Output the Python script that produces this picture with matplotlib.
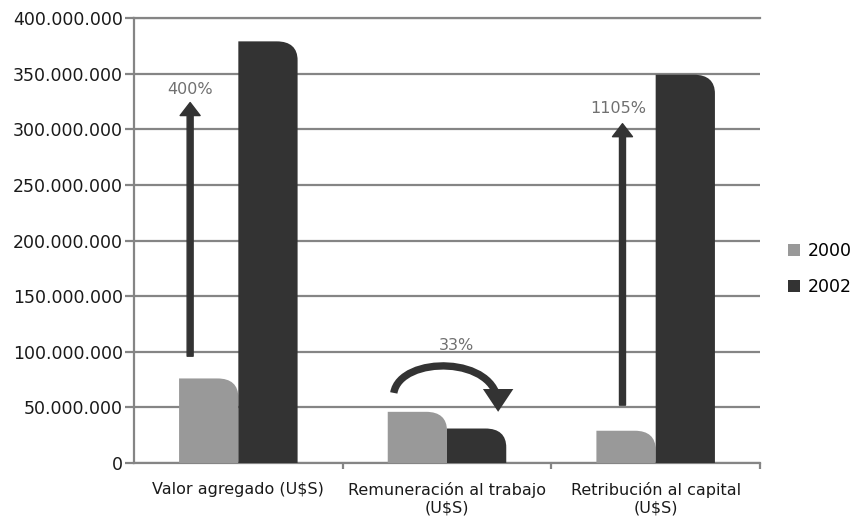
import matplotlib
matplotlib.use("Agg")
import matplotlib.pyplot as plt
from matplotlib.patches import FancyArrowPatch, PathPatch, Patch
from matplotlib.path import Path
import numpy as np

categories = ["Valor agregado (U$S)", "Remuneración al trabajo\n(U$S)", "Retribución al capital\n(U$S)"]
series_names = ["2000", "2002"]
values_2000 = [76_000_000, 46_000_000, 29_000_000]
values_2002 = [379_000_000, 31_000_000, 349_000_000]
ytick_values = [0, 50_000_000, 100_000_000, 150_000_000, 200_000_000, 250_000_000, 300_000_000, 350_000_000, 400_000_000]
ytick_labels = ["0", "50.000.000", "100.000.000", "150.000.000", "200.000.000", "250.000.000", "300.000.000", "350.000.000", "400.000.000"]
pct_labels = ["400%", "33%", "1105%"]

plt.rcParams['font.family'] = ['DejaVu Sans']

fig = plt.figure(figsize=(8.53, 5.16), dpi=100)
ax = fig.add_axes([134/853, 53/516, 626/853, 445/516])

c2000 = "#999999"
c2002 = "#333333"
gridc = "#858585"

x = np.arange(len(categories))
w = 0.284
bars1 = ax.bar(x - w/2, values_2000, w, color=c2000, label=series_names[0], zorder=3)
bars2 = ax.bar(x + w/2, values_2002, w, color=c2002, label=series_names[1], zorder=3)

ax.set_xlim(-0.5, 2.5)
ax.set_ylim(0, 400_000_000)

# rounded top-right corner for each bar
px_per_x = 626 / 3.0
px_per_y = 445 / 400_000_000
rx = 21 / px_per_x
ry = 19 / px_per_y
k = 0.66
for rect in list(bars1) + list(bars2):
    x0 = rect.get_x(); x1 = x0 + rect.get_width(); h = rect.get_height()
    r_y = min(ry, h * 0.9)
    verts = [(x0, 0), (x0, h), (x1 - rx, h),
             (x1 - rx + k * rx, h), (x1, h - r_y + k * r_y), (x1, h - r_y),
             (x1, 0), (x0, 0)]
    codes = [Path.MOVETO, Path.LINETO, Path.LINETO,
             Path.CURVE4, Path.CURVE4, Path.CURVE4,
             Path.LINETO, Path.CLOSEPOLY]
    rect.set_visible(False)
    ax.add_patch(PathPatch(Path(verts, codes), facecolor=rect.get_facecolor(),
                           edgecolor='none', zorder=3))

# axes styling
ax.set_yticks(ytick_values)
ax.set_yticklabels(ytick_labels)
ax.yaxis.grid(True, color=gridc, linewidth=1.6, zorder=0)
ax.set_axisbelow(True)
ax.spines["right"].set_visible(False)
for s in ["left", "bottom", "top"]:
    ax.spines[s].set_color(gridc)
    ax.spines[s].set_linewidth(1.6)
ax.tick_params(axis='y', length=6.5, width=1.6, color=gridc, pad=1.5,
               labelsize=12.5, labelcolor="#1a1a1a")
ax.set_xticks(x)
ax.set_xticklabels(categories)
ax.tick_params(axis='x', which='major', length=0, pad=14, labelsize=11.5, labelcolor="#1a1a1a")
ax.set_xticks([0.5, 1.5, 2.5], minor=True)
ax.tick_params(axis='x', which='minor', length=4, width=1.6, color=gridc)

# arrows
def varrow(xd, y0, y1):
    a = FancyArrowPatch((xd, y0), (xd, y1),
                        arrowstyle="simple,head_length=0.65,head_width=1.0,tail_width=0.3",
                        mutation_scale=14.4, color=c2002, shrinkA=0, shrinkB=0, zorder=4)
    ax.add_patch(a)

varrow(-0.231, 96_000_000, 324_000_000)
varrow(1.841, 52_000_000, 305_000_000)

arc_path = Path([(0.745, 63_000_000), (0.775, 97_000_000), (1.245, 97_000_000), (1.245, 46_000_000)],
                [Path.MOVETO, Path.CURVE4, Path.CURVE4, Path.CURVE4])
arc = FancyArrowPatch(path=arc_path, arrowstyle="-|>,head_length=0.45,head_width=0.3",
                      mutation_scale=20, lw=5.3, color=c2002, zorder=4,
                      joinstyle='miter', capstyle='butt')
ax.add_patch(arc)

tc = "#707070"
ax.text(-0.231, 336_000_000, pct_labels[0], ha='center', va='center', fontsize=11.5, color=tc)
ax.text(1.043, 106_000_000, pct_labels[1], ha='center', va='center', fontsize=11.5, color=tc)
ax.text(1.82, 319_000_000, pct_labels[2], ha='center', va='center', fontsize=11.5, color=tc)

handles = [Patch(facecolor=c2000, edgecolor='none'), Patch(facecolor=c2002, edgecolor='none')]
leg = fig.legend(handles=handles, labels=series_names, loc='center left',
                 bbox_to_anchor=(788/853, 1 - 269/516), frameon=False, fontsize=12.5,
                 handlelength=0.7, handleheight=0.7, handletextpad=0.45, labelspacing=1.0,
                 borderpad=0, borderaxespad=0)

fig.savefig("out.png", dpi=100)
